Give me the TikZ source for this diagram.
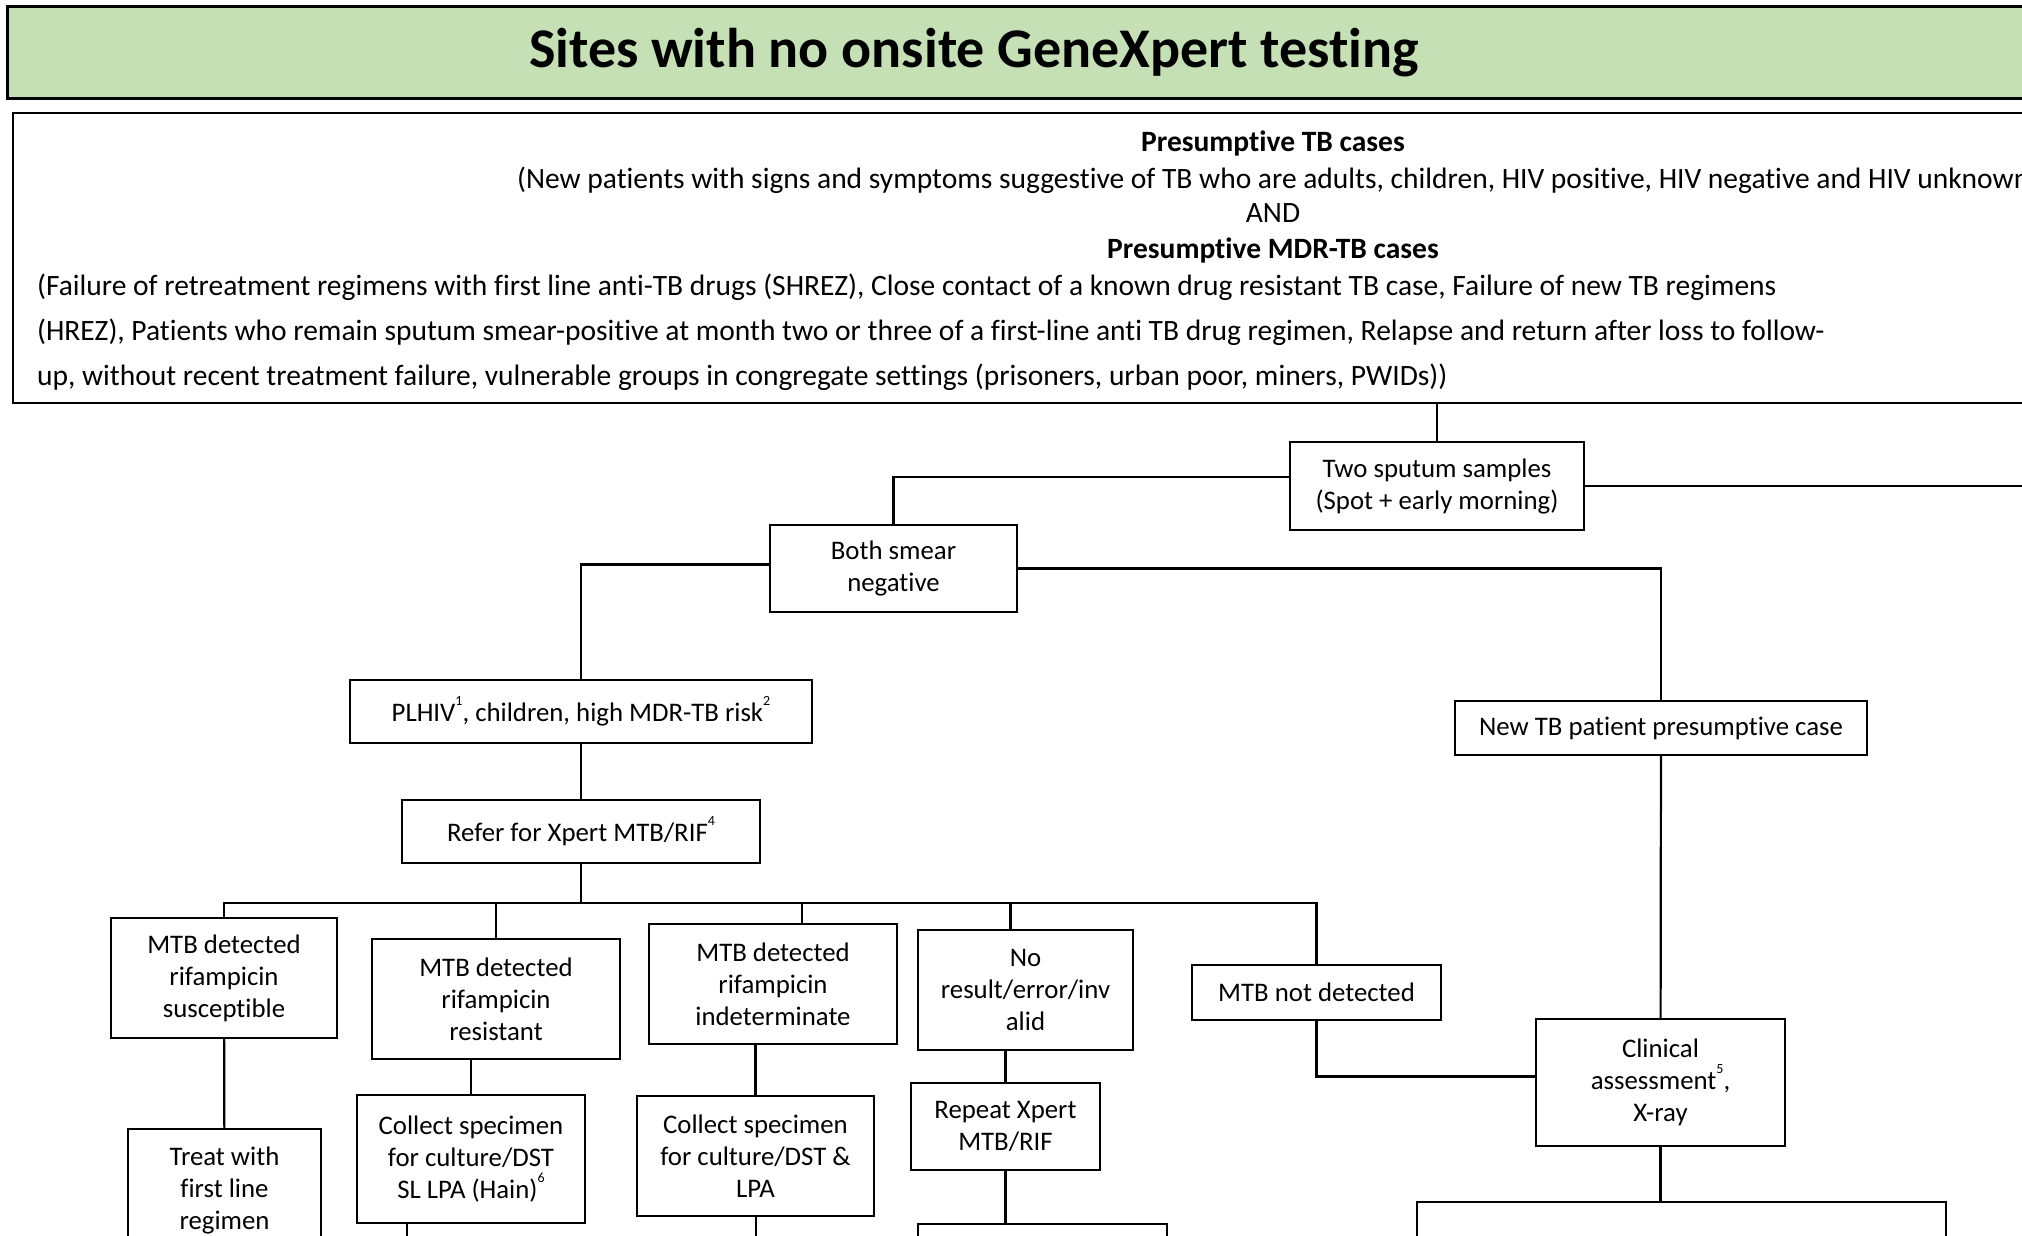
\documentclass[tikz,border=0pt]{standalone}
\usepackage{fontspec}
\setmainfont{Carlito}[Ligatures=NoCommon]
\definecolor{titlegreen}{RGB}{197,224,180}
\newcommand{\fnmark}[1]{\raisebox{0.6em}{\fontsize{14}{14}\selectfont #1}}
\tikzset{box/.style={draw, line width=2.4pt, align=center, inner sep=0pt,
  font=\fontsize{26.8}{32}\selectfont},
  txt/.style={inner sep=0pt, font=\fontsize{29.5}{34}\selectfont}}

\begin{document}
\begin{tikzpicture}[x=1pt, y=-1pt, line width=2.2pt]
  \useasboundingbox (0,0) rectangle (2022,1236);
  \clip (0,0) rectangle (2022,1236);
  % header and case definitions
  \node[draw, fill=titlegreen, line width=2.6pt, minimum width=2100pt,
    minimum height=92pt, anchor=north west] (titlebar) at (6,5) {};
  \node[font=\bfseries\fontsize{56}{60}\selectfont] (titletext) at (974,53)
    {Sites with no onsite GeneXpert testing};
  \node[draw, line width=2.4pt, minimum width=2100pt, minimum height=290pt,
    anchor=north west] (crit) at (12,112) {};
  \node[txt, font=\bfseries\fontsize{29.5}{34}\selectfont] (tbhead) at (1273,143)
    {Presumptive TB cases};
  \node[txt, anchor=west] (tbtext) at (516,180)
    {(New patients with signs and symptoms suggestive of TB who are adults, children, HIV positive, HIV negative and HIV unknown};
  \node[txt] (andtext) at (1273,213) {AND};
  \node[txt, font=\bfseries\fontsize{29.5}{34}\selectfont] (mdrhead) at (1273,250)
    {Presumptive MDR-TB cases};
  \node[txt, anchor=west] (mdrone) at (36,287)
    {(Failure of retreatment regimens with first line anti-TB drugs (SHREZ), Close contact of a known drug resistant TB case, Failure of new TB regimens};
  \node[txt, anchor=west] (mdrtwo) at (36,332)
    {(HREZ), Patients who remain sputum smear-positive at month two or three of a first-line anti TB drug regimen, Relapse and return after loss to follow-};
  \node[txt, anchor=west] (mdrthree) at (36,377)
    {up, without recent treatment failure, vulnerable groups in congregate settings (prisoners, urban poor, miners, PWIDs))};

  % flow boxes
  \node[box, minimum width=294pt, minimum height=88pt] (sputum) at (1437,486)
    {Two sputum samples\\(Spot + early morning)};
  \node[box, minimum width=247pt, minimum height=87pt] (smear) at (893.5,568.5)
    {Both smear\\negative};
  \node[box, minimum width=462pt, minimum height=63pt] (plhiv) at (581,711.5)
    {PLHIV\fnmark{1}, children, high MDR-TB risk\fnmark{2}};
  \node[box, minimum width=358pt, minimum height=63pt] (refer) at (581,831.5)
    {Refer for Xpert MTB/RIF\fnmark{4}};
  \node[box, minimum width=412pt, minimum height=54pt] (newtb) at (1661,728)
    {New TB patient presumptive case};
  \node[box, minimum width=226pt, minimum height=120pt] (sus) at (224,978)
    {MTB detected\\rifampicin\\susceptible};
  \node[box, minimum width=248pt, minimum height=120pt] (res) at (496,999)
    {MTB detected\\rifampicin\\resistant};
  \node[box, minimum width=248pt, minimum height=120pt] (indet) at (773,984)
    {MTB detected\\rifampicin\\indeterminate};
  \node[box, minimum width=215pt, minimum height=120pt] (noresult) at (1025.5,990)
    {No\\result/error/inv\\alid};
  \node[box, minimum width=249pt, minimum height=55pt] (notdet) at (1316.5,992.5)
    {MTB not detected};
  \node[box, minimum width=249pt, minimum height=127pt] (clinical) at (1660.5,1082.5)
    {Clinical\\assessment\fnmark{5},\\X-ray};
  \node[box, minimum width=193pt, minimum height=123pt] (treat) at (224.5,1190.5)
    {Treat with\\first line\\regimen};
  \node[box, minimum width=228pt, minimum height=128pt] (collectres) at (471,1159)
    {Collect specimen\\for culture/DST\\SL LPA (Hain)\fnmark{6}};
  \node[box, minimum width=237pt, minimum height=120pt] (collectind) at (755.5,1156)
    {Collect specimen\\for culture/DST \&\\LPA};
  \node[box, minimum width=189pt, minimum height=87pt] (repeat) at (1005.5,1126.5)
    {Repeat Xpert\\MTB/RIF};
  \node[box, minimum width=249pt, minimum height=80pt, anchor=north] (repeatnext)
    at (1042.5,1223) {};
  \node[box, minimum width=529pt, minimum height=90pt, anchor=north] (clinnext)
    at (1681.5,1201) {};
  \coordinate (bus) at (581,903);
  \coordinate (offright) at (2040,486);
  \coordinate (resend) at (407,1250);
  \coordinate (indend) at (756,1250);

  % connectors
  \draw (crit.south -| sputum) -- (sputum);
  \draw ([yshift=9pt]sputum.west) -| (smear.north);
  \draw (sputum.east) -- (offright);
  \draw ([yshift=4pt]smear.west) -| (plhiv.north);
  \draw (smear.east) -| (newtb.north);
  \draw (plhiv) -- (refer);
  \draw (refer) -- (bus);
  \draw (sus.north) |- (bus) -| (notdet.north);
  \draw (res.north) -- (res.north |- bus);
  \draw ([xshift=29pt]indet.north) -- ([xshift=29pt]indet.north |- bus);
  \draw ([xshift=-15pt]noresult.north) -- ([xshift=-15pt]noresult.north |- bus);
  \draw (sus) -- (treat);
  \draw (res.south -| collectres.north) -- (collectres.north);
  \draw (indet.south -| collectind.north) -- (collectind.north);
  \draw (noresult.south -| repeat.north) -- (repeat.north);
  \draw (repeat.south) -- (repeat.south |- repeatnext.north);
  \draw (collectres.south -| resend) -- (resend);
  \draw (collectind.south -| indend) -- (indend);
  \draw (notdet.south) |- ([yshift=6pt]clinical.west);
  \draw (newtb) -- (clinical);
  \draw (clinical.south) -- (clinical.south |- clinnext.north);
\end{tikzpicture}
\end{document}
